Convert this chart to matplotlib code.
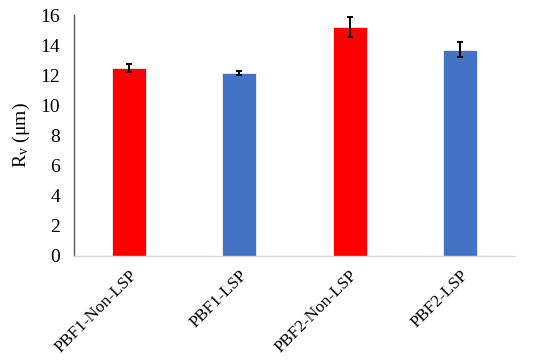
import matplotlib.pyplot as plt

# ====== 数据 ======
categories = ['PBF1-Non-LSP', 'PBF1-LSP', 'PBF2-Non-LSP', 'PBF2-LSP']
rv_values = [12.5, 12.13, 15.23, 13.7]
rv_errors = [0.27, 0.13, 0.67, 0.48]
bar_colors = ['#FF0000', '#4472C4', '#FF0000', '#4472C4']

plt.rcParams['font.family'] = ['Liberation Serif', 'DejaVu Serif']
plt.rcParams['mathtext.fontset'] = 'stix'

fig = plt.figure(figsize=(5.5, 3.61), dpi=100)
ax = fig.add_axes([74 / 550, 1 - 256 / 361, (515 - 74) / 550, (256 - 15) / 361])

x = range(len(categories))
ax.bar(x, rv_values, width=0.31, color=bar_colors, edgecolor='#f2f2f2', linewidth=0.6,
       yerr=rv_errors, error_kw=dict(ecolor='black', elinewidth=1.4, capsize=2.5, capthick=1.4))

ax.set_xlim(-0.5, len(categories) - 0.5)
ax.set_ylim(0, 16)
ax.set_yticks(range(0, 17, 2))
ax.set_xticks(list(x))
ax.set_xticklabels(categories, rotation=45, ha='right', rotation_mode='anchor', fontsize=12.3)
ax.tick_params(axis='y', length=0, labelsize=14, pad=10)
ax.tick_params(axis='x', length=0, pad=8)
ax.set_ylabel(r'R$_\mathregular{v}$ ($\mathregular{\mu}$m)', fontsize=14, labelpad=6)

for side in ['top', 'right']:
    ax.spines[side].set_visible(False)
ax.spines['left'].set_color('#595959')
ax.spines['left'].set_linewidth(1.0)
ax.spines['bottom'].set_color('#d9d9d9')
ax.spines['bottom'].set_linewidth(1.0)

plt.savefig('out.png', dpi=100)
